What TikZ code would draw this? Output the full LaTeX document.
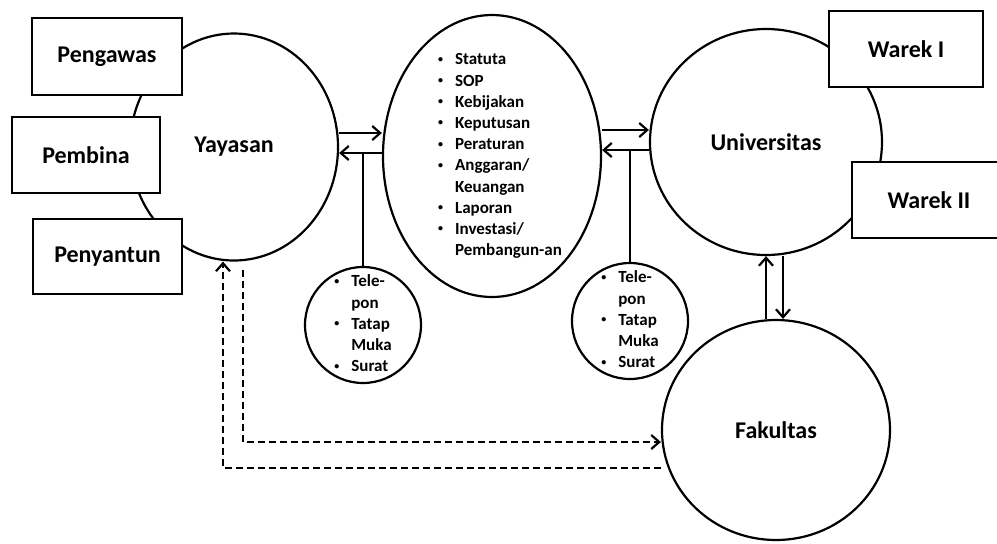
\documentclass[tikz,border=0pt]{standalone}
\usepackage{fontspec}
\setmainfont{Carlito}
\usetikzlibrary{shapes.geometric,arrows.meta}

\newcommand{\itm}{\raisebox{0.3ex}{\fontsize{5}{5}\selectfont\textbullet}}
\newcommand{\medialist}{%
    \begin{tabular}{@{}l@{\hspace{6pt}}l@{}}
        \itm & Tele-\\
             & pon\\
        \itm & Tatap\\
             & Muka\\
        \itm & Surat
    \end{tabular}}

\begin{document}
\begin{tikzpicture}[x=0.5pt,y=-0.5pt,
    lbl/.style={font=\bfseries\fontsize{12}{14}\selectfont},
    lst/.style={font=\bfseries\fontsize{8.5}{10.6}\selectfont,inner sep=0pt},
    blob/.style={ellipse,draw,line width=1.1pt,fill=white,inner sep=0pt},
    box/.style={rectangle,draw,line width=1.1pt,fill=white,inner sep=0pt,lbl},
    flow/.style={line width=1.1pt,-{Straight Barb[length=4pt,width=7pt]}},
    back/.style={flow,dash pattern=on 3.5pt off 2pt}]
    \clip (0,0) rectangle (997,543);

    % Circles
    \node[blob,lbl,minimum width=104pt,minimum height=113.5pt] (yay) at (234,147) {Yayasan};
    \node[blob,minimum width=109pt,minimum height=141pt,
        label={[lst,xshift=4pt]center:{%
        \begin{tabular}{@{}l@{\hspace{6pt}}l@{}}
            \itm & Statuta\\
            \itm & SOP\\
            \itm & Kebijakan\\
            \itm & Keputusan\\
            \itm & Peraturan\\
            \itm & Anggaran/\\
                 & Keuangan\\
            \itm & Laporan\\
            \itm & Investasi/\\
                 & Pembangun-an
        \end{tabular}}}] (doc) at (492,156) {};
    \node[blob,lbl,minimum width=116pt,minimum height=113pt] (uni) at (766,142) {Universitas};
    \node[blob,lbl,minimum width=114pt,minimum height=110pt] (fak) at (776,430) {Fakultas};

    % Media
    \node[blob,minimum width=58pt,minimum height=58pt,label={[lst]center:{\medialist}}] (tel1) at (363,325) {};
    \node[blob,minimum width=58pt,minimum height=58pt,label={[lst]center:{\medialist}}] (tel2) at (630,321) {};

    % Boxes
    \node[box,minimum width=75pt,minimum height=38.5pt] (pengawas) at (107,56.5) {Pengawas};
    \node[box,minimum width=74pt,minimum height=38pt] (pembina) at (86,155) {Pembina};
    \node[box,minimum width=74.5pt,minimum height=37.5pt] (penyantun) at (107.5,256.5) {Penyantun};
    \node[box,minimum width=77pt,minimum height=38pt] (warek1) at (906,49) {Warek I};
    \node[box,minimum width=77pt,minimum height=38pt] (warek2) at (929,200) {Warek II};

    % Yayasan <-> documents
    \coordinate (y1) at ([yshift=7pt]yay.east);
    \coordinate (y2) at ([yshift=-3pt]yay.east);
    \draw[flow] (y1) -- (y1 -| doc.west);
    \draw[flow] (y2 -| doc.west) -- (y2);
    \draw[line width=1.1pt] (tel1.north) -- (tel1.north |- y2);

    % documents <-> Universitas
    \coordinate (u1) at ([yshift=6pt]uni.west);
    \coordinate (u2) at ([yshift=-4pt]uni.west);
    \draw[flow] (u1 -| doc.east) -- (u1);
    \draw[flow] (u2) -- (u2 -| doc.east);
    \draw[line width=1.1pt] (tel2.north) -- (tel2.north |- u2);

    % Universitas <-> Fakultas
    \coordinate (f1) at ([xshift=-5pt]fak.north);
    \coordinate (f2) at ([xshift=3.5pt]fak.north);
    \draw[flow] (f1) -- (f1 |- uni.south);
    \draw[flow] (f2 |- uni.south) -- (f2);

    % Yayasan <-> Fakultas
    \draw[back] ([xshift=4.5pt,yshift=-4pt]yay.south) |- ([yshift=-6pt]fak.west);
    \draw[back] ([yshift=-19pt]fak.west) -| ([xshift=-5.5pt]yay.south);
\end{tikzpicture}
\end{document}
